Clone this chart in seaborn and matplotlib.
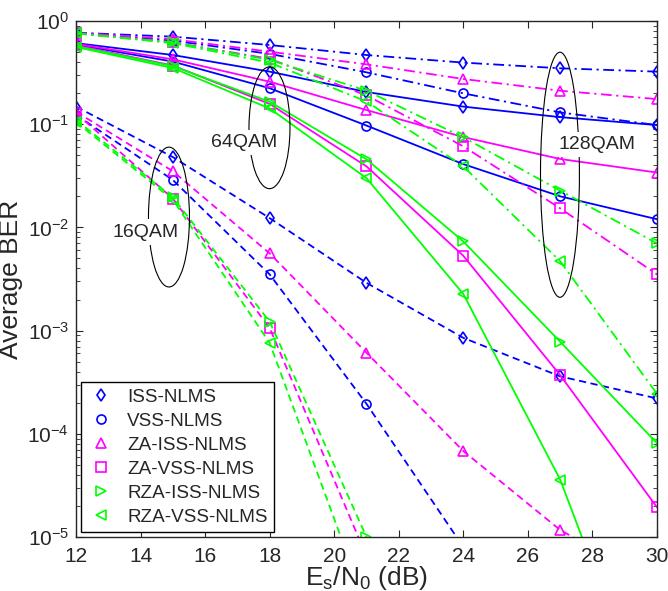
import numpy as np
import pandas as pd
import seaborn as sns
import matplotlib.pyplot as plt
from matplotlib.lines import Line2D
from matplotlib.patches import Ellipse

nan = np.nan

snr_db = [12, 15, 18, 21, 24, 27, 30]
algos = ["ISS-NLMS", "VSS-NLMS", "ZA-ISS-NLMS", "ZA-VSS-NLMS", "RZA-ISS-NLMS", "RZA-VSS-NLMS"]
algo_colors = ["#0000ff", "#0000ff", "#ff00ff", "#ff00ff", "#00ff00", "#00ff00"]
algo_markers = ["d", "o", "^", "s", ">", "<"]

# 16QAM (dashed)
q16_iss = [0.148, 0.048, 0.0123, 0.0029, 0.00085, 0.00036, 0.00022]
q16_vss = [0.123, 0.0288, 0.0035, 0.000195, 8e-6, nan, nan]
q16_za_iss = [0.132, 0.035, 0.0056, 0.00061, 6.8e-5, 1.17e-5, 3.5e-6]
q16_za_vss = [0.128, 0.019, 0.00106, 6.5e-6, nan, nan, nan]
q16_rza_iss = [0.11, 0.0195, 0.00122, 1.0e-5, 1e-7, nan, nan]
q16_rza_vss = [0.105, 0.0185, 0.00076, 2.1e-6, nan, nan, nan]

# 64QAM (solid)
q64_iss = [0.61, 0.468, 0.323, 0.205, 0.148, 0.117, 0.098]
q64_vss = [0.59, 0.404, 0.223, 0.097, 0.041, 0.020, 0.012]
q64_za_iss = [0.60, 0.425, 0.258, 0.137, 0.075, 0.046, 0.034]
q64_za_vss = [0.58, 0.37, 0.157, 0.039, 0.0053, 0.00037, 1.94e-5]
q64_rza_iss = [0.57, 0.365, 0.165, 0.0457, 0.0073, 0.00078, 8.1e-5]
q64_rza_vss = [0.56, 0.35, 0.142, 0.030, 0.00226, 3.6e-5, 1.2e-7]

# 128QAM (dash-dot)
q128_iss = [0.77, 0.705, 0.585, 0.468, 0.395, 0.348, 0.323]
q128_vss = [0.77, 0.645, 0.48, 0.318, 0.199, 0.13, 0.098]
q128_za_iss = [0.77, 0.665, 0.504, 0.38, 0.274, 0.211, 0.175]
q128_za_vss = [0.76, 0.62, 0.43, 0.19, 0.061, 0.0153, 0.0035]
q128_rza_iss = [0.76, 0.62, 0.42, 0.211, 0.0746, 0.0227, 0.007]
q128_rza_vss = [0.76, 0.61, 0.395, 0.166, 0.039, 0.0047, 0.000244]

groups = [
    ("16QAM", (0, (4, 2.5)), [q16_iss, q16_vss, q16_za_iss, q16_za_vss, q16_rza_iss, q16_rza_vss]),
    ("64QAM", "-", [q64_iss, q64_vss, q64_za_iss, q64_za_vss, q64_rza_iss, q64_rza_vss]),
    ("128QAM", (0, (6, 2.5, 1.2, 2.5)), [q128_iss, q128_vss, q128_za_iss, q128_za_vss, q128_rza_iss, q128_rza_vss]),
]

sns.set_style("ticks")
plt.rcParams["font.family"] = ["Liberation Sans", "DejaVu Sans"]
plt.rcParams["mathtext.fontset"] = "custom"
plt.rcParams["mathtext.rm"] = "Liberation Sans"
plt.rcParams["mathtext.it"] = "Liberation Sans:italic"

fig = plt.figure(figsize=(6.68, 5.91), dpi=100)
ax = fig.add_axes([0.1138, 0.0914, 0.8697, 0.8731])

for mod, ls, series in groups:
    for name, color, mk, vals in zip(algos, algo_colors, algo_markers, series):
        df = pd.DataFrame({"snr": snr_db, "ber": vals}).dropna()
        sns.lineplot(data=df, x="snr", y="ber", ax=ax, color=color, linestyle=ls,
                     linewidth=1.3, marker=mk, markersize=6.5, markerfacecolor="none",
                     markeredgecolor=color, mew=1.2, sort=False)

ax.set_yscale("log")
ax.set_xlim(12, 30)
ax.set_ylim(1e-5, 1)
ax.set_xticks(range(12, 31, 2))
ax.tick_params(which="both", direction="in", top=True, right=True, labelsize=15)
ax.tick_params(axis="x", pad=7)
ax.tick_params(axis="y", pad=5)
ax.tick_params(which="major", length=5)
ax.tick_params(which="minor", length=3)
for s in ax.spines.values():
    s.set_linewidth(1.0)
ax.set_xlabel(r"E$_\mathregular{s}$/N$_\mathregular{0}$ (dB)", fontsize=19, labelpad=-1)
ax.set_ylabel("Average BER", fontsize=19, labelpad=3)

# ellipses + labels in axes coordinates
for (cx, cy, w, h) in [(0.160, 0.620, 0.0706, 0.271), (0.333, 0.793, 0.0706, 0.236),
                       (0.833, 0.702, 0.067, 0.475)]:
    ax.add_patch(Ellipse((cx, cy), w, h, transform=ax.transAxes, fill=False,
                         edgecolor="black", linewidth=0.8, zorder=5))
for txt, tx, ty in [("16QAM", 0.119, 0.591), ("64QAM", 0.289, 0.764), ("128QAM", 0.897, 0.760)]:
    ax.text(tx, ty, txt, transform=ax.transAxes, fontsize=14, ha="center", va="center",
            zorder=6, bbox=dict(facecolor="white", edgecolor="none", pad=3))

handles = [Line2D([], [], linestyle="none", marker=m, color=c, markerfacecolor="none",
                  markersize=6.5, mew=1.2) for m, c in zip(algo_markers, algo_colors)]
leg = ax.legend(handles, algos, loc="lower left", fontsize=13.6, frameon=True,
                fancybox=False, edgecolor="black", borderaxespad=0.25,
                handlelength=1.4, handletextpad=0.7, labelspacing=0.36, borderpad=0.35)
leg.get_frame().set_linewidth(1.0)
leg.get_frame().set_alpha(1)
leg.set_zorder(10)

fig.savefig("out.png", dpi=100)
